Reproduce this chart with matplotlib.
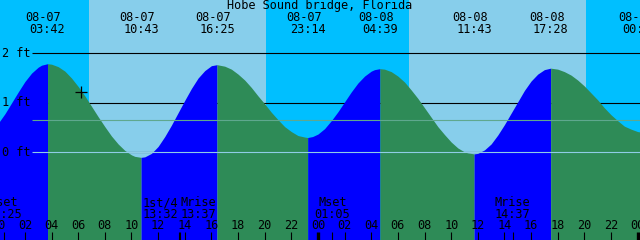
import numpy as np
import matplotlib
matplotlib.use("Agg")
import matplotlib.pyplot as plt

# -------- DATA --------
TITLE = "Hobe Sound bridge, Florida"

# tide height (hours from 08-07 00:00, feet)
CURVE_HOURS = [0, 0.5, 1, 1.5, 2, 2.5, 3, 3.25, 3.70, 4, 4.5, 5, 5.5, 6, 6.5, 7, 7.5,
               8, 8.5, 9, 9.5, 10, 10.25, 10.72,
               11, 11.5, 12, 12.5, 13, 13.5, 14, 14.5, 15, 15.5, 16, 16.42,
               17, 17.5, 18, 18.5, 19, 19.5, 20, 20.5, 21, 21.5, 22, 22.5, 23, 23.23,
               23.6, 24, 24.5, 25, 25.5, 26, 26.5, 27, 27.5, 28, 28.25, 28.65,
               29, 29.5, 30, 30.5, 31, 31.5, 32, 32.5, 33, 33.5, 34, 34.5, 35, 35.25, 35.72,
               36, 36.5, 37, 37.5, 38, 38.5, 39, 39.5, 40, 40.5, 41, 41.47,
               42, 42.5, 43, 43.5, 44, 44.5, 45, 45.5, 46, 46.5, 47, 47.5, 48, 48.5]
CURVE_FT = [0.59, 0.78, 1.00, 1.22, 1.43, 1.60, 1.72, 1.76, 1.79, 1.78, 1.73, 1.64, 1.50, 1.33, 1.14, 0.93, 0.72,
            0.52, 0.33, 0.17, 0.04, -0.05, -0.08, -0.10,
            -0.09, -0.02, 0.12, 0.32, 0.55, 0.80, 1.05, 1.29, 1.50, 1.65, 1.75, 1.77,
            1.74, 1.68, 1.58, 1.46, 1.31, 1.14, 0.98, 0.81, 0.66, 0.52, 0.42, 0.34, 0.31, 0.30,
            0.32, 0.37, 0.48, 0.64, 0.82, 1.02, 1.22, 1.40, 1.54, 1.64, 1.67, 1.69,
            1.68, 1.63, 1.54, 1.42, 1.26, 1.09, 0.90, 0.71, 0.52, 0.36, 0.21, 0.09, 0.01, -0.01, -0.03,
            -0.02, 0.05, 0.17, 0.35, 0.56, 0.79, 1.02, 1.25, 1.44, 1.58, 1.67, 1.70,
            1.68, 1.63, 1.56, 1.46, 1.34, 1.20, 1.06, 0.90, 0.76, 0.64, 0.53, 0.47, 0.42, 0.40]

# high / low tide labels along the top
TIDE_EVENTS = ["08-07 03:42", "08-07 10:43", "08-07 16:25", "08-07 23:14",
               "08-08 04:39", "08-08 11:43", "08-08 17:28", "08-09 00:13"]

# moon events along the bottom
MOON_NAMES = ["Mset", "1st/4", "Mrise", "Mset", "Mrise"]
MOON_EVENTS = ["08-07 00:25", "08-07 13:32", "08-07 13:37", "08-08 01:05", "08-08 14:37"]
MOON_ALIGN = ["center", "right", "left", "center", "center"]

SUNRISE = ["08-07 06:50", "08-08 06:50"]
SUNSET = ["08-07 20:05", "08-08 20:06"]

GRID_FT = [2, 1, 0]
MEAN_FT = 0.65
NOW = ("08-07 06:12", 1.22)
# ----------------------

# -------- SETTINGS --------
W, H = 640, 240
T0 = 0.13            # hour at left edge
PX_PER_H = 13.32
ZERO_PX = 152.4      # pixel row of 0 ft
PX_PER_FT = 49.55

NIGHT = "#00bfff"
DAY = "#87ceeb"
RISE = "#0000ff"
FALL = "#2e8b57"
ZERO_LINE = "#8fcde6"
MEAN_LINE = "#5fa88e"
FONT = dict(family="DejaVu Sans Mono", fontsize=8.6, color="black")
# --------------------------


def hours(stamp):
    date, hm = stamp.split()
    day = int(date.split("-")[1]) - 7
    hh, mm = hm.split(":")
    return day * 24 + int(hh) + int(mm) / 60


def ft(py):
    # pixel row -> feet
    return (ZERO_PX - py) / PX_PER_FT


def px(n):
    # pixel width -> hours
    return n / PX_PER_H


def main():
    fig = plt.figure(figsize=(W / 100, H / 100), dpi=100)
    ax = fig.add_axes([0, 0, 1, 1])
    ax.set_xlim(T0, T0 + W / PX_PER_H)
    ax.set_ylim(ft(H), ft(0))
    ax.axis("off")

    x0, x1 = ax.get_xlim()

    # day / night background
    ax.axvspan(x0, x1, color=NIGHT, lw=0, zorder=0)
    for a, b in zip(SUNRISE, SUNSET):
        ax.axvspan(hours(a), hours(b), color=DAY, lw=0, zorder=0)

    # foot lines behind the water
    for lvl in GRID_FT:
        ax.hlines(lvl, x0 + px(32), x1, color="black", lw=0.8, zorder=1)
        ax.text(x0 + px(2), lvl, f"{lvl} ft", ha="left", va="center", zorder=5, **FONT)

    # water, blue while rising, green while falling
    t = np.array(CURVE_HOURS)
    h = np.array(CURVE_FT)
    rising = np.diff(h) > 0
    start = 0
    for i in range(1, len(rising) + 1):
        if i == len(rising) or rising[i] != rising[start]:
            ax.fill_between(t[start:i + 1], h[start:i + 1], ft(H) - 1,
                            color=RISE if rising[start] else FALL, lw=0, zorder=2)
            start = i

    ax.hlines(0, x0 + px(32), x1, color=ZERO_LINE, lw=0.8, zorder=3)
    ax.hlines(MEAN_FT, x0 + px(32), x1, color=MEAN_LINE, lw=0.8, zorder=3)

    # current time marker
    ax.plot(hours(NOW[0]), NOW[1], marker="+", ms=9, mew=0.9, color="black", zorder=4)

    # title and tide event labels
    fig.text(0.5, 1 - 5.5 / H, TITLE, ha="center", va="center", **FONT)
    for ev in TIDE_EVENTS:
        x = hours(ev)
        date, hm = ev.split()
        ax.text(x - px(4), ft(17), date, ha="center", va="center", **FONT)
        ax.text(x, ft(29.5), hm, ha="center", va="center", **FONT)

    # hour ticks along the bottom
    for hr in range(0, 49, 2):
        ax.text(hr, ft(225.5), f"{hr % 24:02d}", ha="center", va="center", zorder=5, **FONT)
        if hr % 24 == 0:
            ax.vlines(hr, ft(H), ft(232), color="black", lw=2.4, zorder=5)
        else:
            ax.vlines(hr, ft(H), ft(232), color="black", lw=0.8, zorder=5)

    # moon events
    for name, ev, al in zip(MOON_NAMES, MOON_EVENTS, MOON_ALIGN):
        x = hours(ev)
        ax.vlines(x, ft(H), ft(232), color="black", lw=0.8, zorder=5)
        tx = x
        if al == "right":
            tx = x - px(0.5)
        elif al == "left":
            tx = x + px(0.5)
        ax.text(tx, ft(202.5), name, ha=al, va="center", zorder=5, **FONT)
        ax.text(tx, ft(214), ev.split()[1], ha=al, va="center", zorder=5, **FONT)

    fig.savefig("out.png", dpi=100)


if __name__ == "__main__":
    main()
